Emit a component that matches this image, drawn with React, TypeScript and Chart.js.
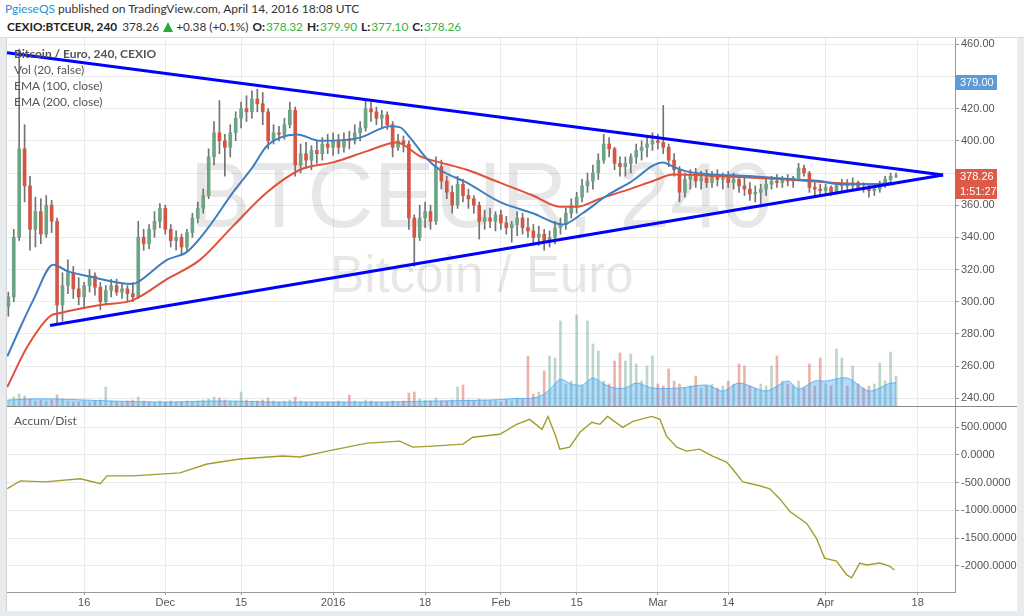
import React, { useEffect, useRef } from 'react';
import { Chart, registerables } from 'chart.js';

Chart.register(...registerables);

// ---- x axis: days counted from 1 Nov 2015 (= day 0), one candle per day ----
const X_MIN = 0.75;
const X_MAX = 175.9;
const FIRST_BAR_DAY = 1;
const xTickDays = [15, 30, 44, 61, 78, 92, 106, 121, 134, 152, 169];
const xTickLabels = ['16', 'Dec', '15', '2016', '18', 'Feb', '15', 'Mar', '14', 'Apr', '18'];

// ---- price axis ----
const PRICE_MIN = 235.2;
const PRICE_MAX = 463.9;
const priceTicks = [460, 440, 420, 400, 380, 360, 340, 320, 300, 280, 260, 240];
const priceTicksUnderLabels = [440, 380];

// ---- Accum/Dist axis ----
const AD_MIN = -2475;
const AD_MAX = 867;
const adTicks = [500, 0, -500, -1000, -1500, -2000];

// ---- candles (EUR) ----
const firstOpen = 297;
const closes = [
  303, 340, 395, 372, 345, 356, 342, 360, 350, 298,
  310, 318, 308, 303, 310, 316, 309, 300, 307, 310,
  306, 308, 305, 303, 340, 336, 345, 350, 358, 345,
  338, 340, 334, 343, 352, 358, 366, 390, 405, 400,
  396, 405, 414, 420, 418, 426, 423, 418, 400, 405,
  404, 410, 419, 385, 392, 388, 394, 392, 398, 396,
  400, 396, 401, 400, 405, 408, 420, 418, 414, 416,
  410, 396, 400, 398, 352, 340, 352, 356, 350, 384,
  375, 368, 360, 373, 366, 364, 360, 350, 352, 350,
  354, 349, 346, 348, 352, 346, 344, 340, 342, 338,
  340, 346, 348, 355, 360, 365, 372, 375, 380, 388,
  398, 395, 386, 384, 386, 390, 394, 396, 398, 400,
  399, 396, 388, 382, 368, 376, 378, 375, 377, 374,
  378, 376, 377, 374, 376, 372, 370, 367, 368, 370,
  373, 375, 374, 376, 375, 377, 383, 380, 371, 370,
  369, 371, 368, 372, 373, 372, 374, 371, 370, 369,
  370, 373, 376, 378, 378.26,
];
const highs = [
  306, 345, 457, 410, 378, 365, 364, 366, 363, 352,
  318, 326, 322, 315, 312, 320, 318, 312, 310, 314,
  314, 311, 310, 312, 350, 345, 348, 356, 361, 360,
  348, 344, 342, 345, 355, 362, 370, 395, 412, 425,
  404, 410, 418, 424, 428, 431, 432, 430, 420, 410,
  409, 414, 424, 421, 398, 399, 397, 400, 402, 404,
  405, 404, 405, 406, 410, 412, 425, 424, 421, 419,
  418, 412, 404, 403, 400, 354, 360, 362, 360, 390,
  388, 378, 372, 378, 376, 370, 366, 362, 357, 358,
  356, 357, 353, 350, 356, 355, 352, 348, 347, 345,
  344, 350, 352, 358, 364, 368, 376, 380, 385, 392,
  404, 402, 396, 390, 390, 392, 398, 400, 402, 405,
  404, 422, 398, 392, 384, 380, 382, 383, 381, 382,
  381, 382, 380, 381, 380, 378, 377, 374, 372, 373,
  376, 378, 379, 378, 379, 378, 386, 385, 381, 374,
  373, 373, 372, 374, 376, 376, 377, 375, 374, 373,
  372, 375, 378, 380, 379.9,
];
const lows = [
  291, 300, 338, 362, 332, 334, 336, 340, 343, 287,
  288, 305, 302, 298, 297, 306, 304, 295, 298, 303,
  304, 302, 300, 300, 302, 332, 333, 340, 346, 342,
  334, 332, 329, 331, 340, 349, 355, 364, 385, 392,
  378, 390, 400, 408, 412, 414, 418, 410, 395, 398,
  400, 401, 408, 378, 380, 383, 382, 386, 388, 392,
  391, 392, 393, 395, 398, 400, 406, 412, 410, 408,
  407, 390, 394, 393, 345, 322, 338, 346, 345, 348,
  370, 364, 355, 358, 362, 358, 355, 339, 345, 346,
  344, 345, 342, 337, 341, 342, 340, 336, 335, 332,
  334, 336, 342, 345, 352, 355, 362, 368, 370, 376,
  386, 390, 382, 378, 378, 380, 386, 388, 390, 394,
  395, 392, 384, 378, 362, 365, 370, 371, 370, 371,
  371, 372, 370, 371, 370, 368, 366, 363, 362, 361,
  366, 370, 371, 371, 372, 371, 376, 378, 368, 366,
  366, 366, 366, 367, 369, 369, 370, 369, 368, 365,
  366, 368, 371, 374, 377.1,
];

// ---- volume (BTC) and its 20-period average ----
const VOL_AXIS_MAX = 3680;
const volume = [
  60, 90, 120, 100, 70, 50, 60, 50, 60, 110,
  70, 50, 40, 40, 50, 40, 50, 60, 190, 50,
  40, 40, 50, 60, 90, 50, 40, 40, 50, 40,
  50, 40, 40, 50, 40, 50, 60, 70, 90, 80,
  60, 50, 50, 140, 60, 50, 50, 60, 80, 50,
  40, 50, 60, 90, 50, 40, 40, 40, 30, 40,
  40, 50, 40, 110, 50, 40, 60, 50, 40, 40,
  40, 50, 40, 50, 130, 140, 70, 60, 50, 80,
  50, 50, 60, 190, 210, 60, 50, 70, 60, 50,
  50, 40, 60, 50, 80, 70, 500, 120, 140, 350,
  500, 480, 850, 220, 250, 910, 200, 850, 620, 550,
  250, 220, 450, 530, 450, 520, 420, 250, 400, 500,
  220, 200, 370, 250, 220, 180, 200, 300, 180, 200,
  220, 180, 200, 250, 220, 420, 400, 200, 180, 220,
  200, 400, 500, 250, 220, 200, 250, 180, 420, 200,
  480, 220, 200, 570, 480, 200, 400, 220, 180, 200,
  220, 430, 250, 540, 300,
];
const volMaDays = [1, 5, 10, 20, 30, 40, 50, 60, 70, 80, 90, 95, 98, 100, 102, 103, 105, 107, 109, 111, 113, 115, 117, 120, 125, 130, 133, 136, 141, 145, 147, 150, 152, 156, 160, 164, 165];
const volMa = [60, 70, 70, 50, 40, 50, 40, 40, 40, 50, 60, 75, 80, 120, 220, 270, 220, 210, 280, 220, 180, 180, 230, 180, 180, 210, 150, 230, 150, 250, 170, 250, 250, 280, 150, 230, 230];

// ---- EMA (100) and EMA (200) ----
const ema100Days = [0.8, 3.2, 5.6, 9.3, 11.9, 15.6, 24, 25.3, 30.3, 34, 37.7, 42.5, 46.2, 48.8, 54.3, 58.6, 66, 71.5, 73.3, 75.2, 78.3, 80.7, 85.7, 91.8, 97.9, 103.4, 107.1, 111.6, 115.8, 121.9, 123.8, 126.3, 138.5, 146.6, 150.9, 154.6, 160.7, 164.6];
const ema100 = [266, 284, 301, 323, 319, 316, 311, 313, 326, 331, 345, 368, 384, 397, 404, 400, 402, 409, 408.5, 402, 389, 382, 374, 362, 355, 348, 355, 366, 374, 386.5, 384, 381, 378, 376, 375, 373, 373, 374];
const ema200Days = [0.8, 4.5, 8.7, 10.6, 18, 24, 30.3, 36.4, 42.5, 48.8, 54.9, 61, 67.3, 72.8, 77, 80.7, 85.7, 91.8, 97.9, 102.9, 106, 110.3, 115.8, 120.1, 123.8, 132.4, 144.8, 153.3, 162, 164.6];
const ema200 = [247, 272, 291, 293, 298, 301, 314, 326, 347, 368, 382, 386.6, 393.6, 399, 390.5, 386.6, 382, 374, 366, 359, 359, 364, 370, 375, 379, 378, 376, 374, 373, 373];

// ---- drawn trend lines (day, price) ----
const trendTopDays = [0.75, 173.7];
const trendTopPrices = [454.7, 378.7];
const trendBottomDays = [8.7, 173.7];
const trendBottomPrices = [285.2, 378.7];

// ---- Accum/Dist ----
const adDays = [0.8, 3.2, 7.8, 14.3, 18, 19.2, 24, 32.7, 37.7, 43.8, 51.7, 54.9, 59.9, 67.3, 73.3, 75.7, 79.4, 85, 86.8, 91.8, 94.9, 97.3, 99.6, 100.7, 102, 102.9, 104.7, 106.6, 108.8, 110.3, 111.7, 114.5, 116.4, 119.9, 121.4, 122.6, 124.5, 126.3, 128.7, 131.1, 133.7, 134.8, 136.7, 139.8, 141.7, 143.5, 145.4, 148.5, 150.3, 151.8, 154, 155.9, 156.8, 158.3, 159.6, 162, 163.8, 164.7];
const adValues = [-610, -467, -485, -430, -520, -377, -377, -323, -162, -73, -19, -37, 70, 214, 250, 142, 160, 196, 321, 375, 554, 643, 464, 697, 375, 106, 142, 410, 590, 554, 697, 500, 607, 697, 643, 339, 142, 70, 106, -19, -127, -252, -485, -556, -610, -789, -1021, -1236, -1505, -1863, -1917, -2167, -2220, -1952, -1988, -1952, -2006, -2077];

// ---- axis labels on the right ----
const lastPrice = 378.26;
const countdownText = '1:51:27';
const volumeLabelText = '379.00';

const AXIS_FONT = { family: '"Liberation Sans", Arial, sans-serif', size: 11 };
const GRID = '#ebebeb';
const AXIS_LINE = '#9a9a9a';
const UP = '#6ba583';
const DOWN = '#d75442';

const pts = (xs: number[], ys: number[]) => xs.map((x, i) => ({ x, y: ys[i] }));

export default function App() {
  const upperRef = useRef<HTMLCanvasElement>(null);
  const lowerRef = useRef<HTMLCanvasElement>(null);

  useEffect(() => {
    const barDays = closes.map((_, i) => FIRST_BAR_DAY + i);
    const opens = closes.map((_, i) => (i === 0 ? firstOpen : closes[i - 1]));
    const isUp = closes.map((c, i) => c >= opens[i]);

    const decor = {
      id: 'decor',
      beforeDatasetsDraw(chart: any) {
        const { ctx, chartArea } = chart;
        ctx.save();
        ctx.beginPath();
        ctx.rect(chartArea.left, chartArea.top, chartArea.width, chartArea.height);
        ctx.clip();
        const cx = (chartArea.left + chartArea.right) / 2;
        ctx.fillStyle = 'rgba(0,0,0,0.095)';
        ctx.textAlign = 'center';
        ctx.textBaseline = 'alphabetic';
        ctx.font = '92px "Liberation Sans", Arial, sans-serif';
        ctx.fillText('BTCEUR, 240', cx, chartArea.top + 189);
        ctx.font = '51px "Liberation Sans", Arial, sans-serif';
        ctx.fillText('Bitcoin / Euro', cx + 1, chartArea.top + 254);
        ctx.restore();
      },
      afterDraw(chart: any) {
        const { ctx, chartArea, scales } = chart;
        const box = (yc: number, text: string, color: string) => {
          const x = chartArea.right;
          ctx.save();
          ctx.fillStyle = color;
          ctx.fillRect(x, Math.round(yc - 7), 42, 15);
          ctx.fillStyle = '#ffffff';
          ctx.font = '11px "Liberation Sans", Arial, sans-serif';
          ctx.textAlign = 'left';
          ctx.textBaseline = 'middle';
          ctx.fillText(text, x + 5, Math.round(yc - 7) + 8);
          ctx.restore();
        };
        box(chartArea.top + 43.5, volumeLabelText, '#5b9bd6');
        const py = scales.y.getPixelForValue(lastPrice);
        box(py, lastPrice.toFixed(2), '#dc5a46');
        box(py + 15.5, countdownText, '#dc5a46');
      },
    };

    const upper = new Chart(upperRef.current as HTMLCanvasElement, {
      type: 'line',
      data: {
        datasets: [
          {
            type: 'line',
            data: pts(trendTopDays, trendTopPrices),
            borderColor: '#0000ff',
            borderWidth: 3,
            pointRadius: 0,
            order: 0,
            yAxisID: 'y',
          },
          {
            type: 'line',
            data: pts(trendBottomDays, trendBottomPrices),
            borderColor: '#0000ff',
            borderWidth: 3,
            pointRadius: 0,
            order: 0,
            yAxisID: 'y',
          },
          {
            type: 'line',
            data: pts(ema100Days, ema100),
            borderColor: '#3f7fbd',
            borderWidth: 2,
            pointRadius: 0,
            cubicInterpolationMode: 'monotone',
            order: 1,
            yAxisID: 'y',
          },
          {
            type: 'line',
            data: pts(ema200Days, ema200),
            borderColor: '#e0503a',
            borderWidth: 2,
            pointRadius: 0,
            cubicInterpolationMode: 'monotone',
            order: 1,
            yAxisID: 'y',
          },
          {
            type: 'bar',
            data: barDays.map((d, i) => ({ x: d, y: [opens[i], closes[i]] })),
            backgroundColor: isUp.map((u) => (u ? UP : DOWN)),
            barThickness: 3,
            grouped: false,
            order: 2,
            yAxisID: 'y',
          },
          {
            type: 'bar',
            data: barDays.map((d, i) => ({ x: d, y: [lows[i], highs[i]] })),
            backgroundColor: '#737375',
            barThickness: 1,
            grouped: false,
            order: 3,
            yAxisID: 'y',
          },
          {
            type: 'line',
            data: pts(volMaDays, volMa),
            borderColor: 'rgba(66,165,245,0.75)',
            backgroundColor: 'rgba(66,165,245,0.4)',
            borderWidth: 1,
            fill: 'origin',
            pointRadius: 0,
            tension: 0.3,
            order: 4,
            yAxisID: 'yVol',
          },
          {
            type: 'bar',
            data: barDays.map((d, i) => ({ x: d, y: volume[i] })),
            backgroundColor: isUp.map((u) => (u ? 'rgba(107,165,131,0.45)' : 'rgba(215,84,66,0.45)')),
            barThickness: 2,
            grouped: false,
            order: 5,
            yAxisID: 'yVol',
          },
        ] as any,
      },
      options: {
        responsive: false,
        animation: false,
        devicePixelRatio: 1,
        events: [],
        layout: { padding: 0 },
        plugins: { legend: { display: false }, tooltip: { enabled: false } },
        scales: {
          x: {
            type: 'linear',
            min: X_MIN,
            max: X_MAX,
            offset: false,
            afterBuildTicks: (s: any) => {
              s.ticks = xTickDays.map((v) => ({ value: v }));
            },
            ticks: { display: false },
            grid: { color: GRID, drawTicks: false, offset: false },
            border: { display: false },
            afterFit: (s: any) => {
              s.height = 0;
              s.paddingLeft = 0;
              s.paddingRight = 0;
            },
          },
          y: {
            type: 'linear',
            position: 'right',
            min: PRICE_MIN,
            max: PRICE_MAX,
            afterBuildTicks: (s: any) => {
              s.ticks = priceTicks.map((v) => ({ value: v }));
            },
            ticks: {
              font: AXIS_FONT,
              color: '#555555',
              padding: 2,
              callback: (v: any) => (priceTicksUnderLabels.includes(Number(v)) ? '' : Number(v).toFixed(2)),
            },
            grid: { color: GRID, tickLength: 4, tickColor: AXIS_LINE },
            border: { color: AXIS_LINE },
            afterFit: (s: any) => {
              s.width = 62;
              s.paddingTop = 0;
              s.paddingBottom = 0;
            },
          },
          yVol: { type: 'linear', display: false, min: 0, max: VOL_AXIS_MAX },
        } as any,
      },
      plugins: [decor],
    } as any);

    const lower = new Chart(lowerRef.current as HTMLCanvasElement, {
      type: 'line',
      data: {
        datasets: [
          {
            data: pts(adDays, adValues),
            borderColor: '#a39d2b',
            borderWidth: 1.4,
            pointRadius: 0,
            tension: 0,
          },
        ],
      },
      options: {
        responsive: false,
        animation: false,
        devicePixelRatio: 1,
        events: [],
        layout: { padding: 0 },
        plugins: { legend: { display: false }, tooltip: { enabled: false } },
        scales: {
          x: {
            type: 'linear',
            min: X_MIN,
            max: X_MAX,
            offset: false,
            afterBuildTicks: (s: any) => {
              s.ticks = xTickDays.map((v) => ({ value: v }));
            },
            ticks: {
              font: AXIS_FONT,
              color: '#555555',
              padding: 1,
              autoSkip: false,
              maxRotation: 0,
              callback: (_v: any, i: number) => xTickLabels[i],
            },
            grid: { color: GRID, tickLength: 3, tickColor: AXIS_LINE, offset: false },
            border: { color: AXIS_LINE },
            afterFit: (s: any) => {
              s.height = 19;
              s.paddingLeft = 0;
              s.paddingRight = 0;
            },
          },
          y: {
            type: 'linear',
            position: 'right',
            min: AD_MIN,
            max: AD_MAX,
            afterBuildTicks: (s: any) => {
              s.ticks = adTicks.map((v) => ({ value: v }));
            },
            ticks: {
              font: AXIS_FONT,
              color: '#555555',
              padding: 2,
              callback: (v: any) => Number(v).toFixed(4),
            },
            grid: { color: GRID, tickLength: 4, tickColor: AXIS_LINE },
            border: { color: AXIS_LINE },
            afterFit: (s: any) => {
              s.width = 62;
              s.paddingTop = 0;
              s.paddingBottom = 0;
            },
          },
        } as any,
      },
    } as any);

    return () => {
      upper.destroy();
      lower.destroy();
    };
  }, []);

  const green = '#36b23e';
  const lbl: React.CSSProperties = { fontWeight: 700, color: '#222', marginLeft: 4 };
  const val: React.CSSProperties = { color: green, marginLeft: 1 };

  return (
    <div
      style={{
        position: 'fixed',
        left: 0,
        top: 0,
        width: 1024,
        height: 616,
        background: '#e9ecef',
        overflow: 'hidden',
        fontFamily: 'Lato, "Open Sans", sans-serif',
      }}
    >
      <div
        style={{
          position: 'absolute',
          left: 0,
          top: 0,
          width: 1024,
          height: 37,
          background: '#ffffff',
          borderBottom: '1px solid #d8dbde',
        }}
      >
        <div style={{ position: 'absolute', left: 5, top: 1, fontSize: 12, lineHeight: '16px', color: '#333', whiteSpace: 'nowrap' }}>
          <span style={{ color: '#2a93d5' }}>PgieseQS</span> published on TradingView.com, April 14, 2016 18:08 UTC
        </div>
        <div style={{ position: 'absolute', left: 7, top: 19, fontSize: 11.8, lineHeight: '16px', color: '#333', whiteSpace: 'nowrap' }}>
          <span style={{ fontWeight: 700, color: '#222' }}>CEXIO:BTCEUR, 240</span>
          <span style={{ marginLeft: 5 }}>378.26</span>
          <span
            style={{
              display: 'inline-block',
              width: 0,
              height: 0,
              marginLeft: 4,
              borderLeft: '5px solid transparent',
              borderRight: '5px solid transparent',
              borderBottom: '10px solid #26a83a',
              verticalAlign: '-1px',
            }}
          />
          <span style={{ marginLeft: 3 }}>+0.38 (+0.1%)</span>
          <span style={lbl}>O:</span>
          <span style={val}>378.32</span>
          <span style={lbl}>H:</span>
          <span style={val}>379.90</span>
          <span style={lbl}>L:</span>
          <span style={val}>377.10</span>
          <span style={lbl}>C:</span>
          <span style={val}>378.26</span>
        </div>
      </div>

      <div style={{ position: 'absolute', left: 7, top: 38, width: 1010, height: 573, background: '#ffffff' }} />
      <div style={{ position: 'absolute', left: 6, top: 38, width: 1, height: 573, background: '#cfd3d6' }} />

      <canvas
        ref={upperRef}
        width={1010}
        height={368}
        style={{ position: 'absolute', left: 7, top: 38, width: 1010, height: 368 }}
      />
      <div style={{ position: 'absolute', left: 7, top: 406, width: 1010, height: 1, background: '#8a8a8a' }} />
      <canvas
        ref={lowerRef}
        width={1010}
        height={204}
        style={{ position: 'absolute', left: 7, top: 407, width: 1010, height: 204 }}
      />

      <div
        style={{
          position: 'absolute',
          left: 14,
          top: 46,
          fontSize: 12,
          lineHeight: '16px',
          color: '#555',
          whiteSpace: 'nowrap',
          pointerEvents: 'none',
        }}
      >
        <div style={{ fontWeight: 700 }}>Bitcoin / Euro, 240, CEXIO</div>
        <div>Vol (20, false)</div>
        <div>EMA (100, close)</div>
        <div>EMA (200, close)</div>
      </div>
      <div
        style={{ position: 'absolute', left: 14, top: 413, fontSize: 12, lineHeight: '16px', color: '#555', whiteSpace: 'nowrap' }}
      >
        Accum/Dist
      </div>
    </div>
  );
}
